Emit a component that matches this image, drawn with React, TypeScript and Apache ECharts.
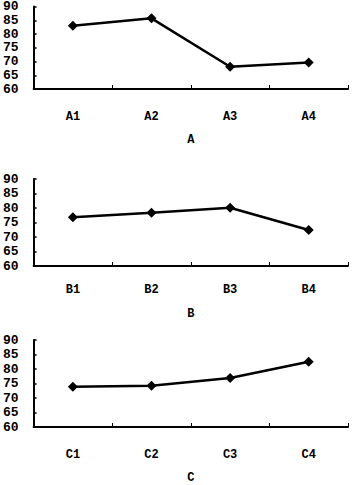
import React, { useEffect, useRef } from "react";
import * as echarts from "echarts";

const catsA = ["A1", "A2", "A3", "A4"];
const catsB = ["B1", "B2", "B3", "B4"];
const catsC = ["C1", "C2", "C3", "C4"];
const valsA = [83.0, 85.7, 68.1, 69.6];
const valsB = [76.8, 78.4, 80.1, 72.4];
const valsC = [73.9, 74.2, 76.9, 82.5];
const titles = ["A", "B", "C"];
const yMin = 60;
const yMax = 90;
const yStep = 5;

const FONT = "Liberation Mono";

export default function App() {
  const ref = useRef<HTMLDivElement>(null);
  useEffect(() => {
    if (!ref.current) return;
    const chart = echarts.init(ref.current, null, { renderer: "svg" });
    const grids = [
      { left: 33, right: 7, top: 5, height: 84 },
      { left: 33, right: 7, top: 179, height: 87 },
      { left: 33, right: 7, top: 340, height: 87 },
    ];
    const cats = [catsA, catsB, catsC];
    const vals = [valsA, valsB, valsC];
    const labelMargins = [22, 18, 22];
    const nameGaps = [45, 42, 45];
    const axisLine = { lineStyle: { color: "#000", width: 2 } };
    chart.setOption({
      animation: false,
      backgroundColor: "#fff",
      grid: grids,
      xAxis: cats.map((c, i) => ({
        type: "category",
        gridIndex: i,
        data: c,
        boundaryGap: true,
        name: titles[i],
        nameLocation: "middle",
        nameGap: nameGaps[i],
        nameTextStyle: { color: "#000", fontFamily: FONT, fontSize: 12, fontWeight: "bold" },
        axisLine,
        axisTick: { show: true, inside: true, length: 4, alignWithLabel: false, lineStyle: { color: "#000", width: 1 } },
        axisLabel: { color: "#000", fontFamily: FONT, fontSize: 12, fontWeight: "bold", margin: labelMargins[i] },
        splitLine: { show: false },
      })),
      yAxis: cats.map((_, i) => ({
        type: "value",
        gridIndex: i,
        min: yMin,
        max: yMax,
        interval: yStep,
        axisLine: { show: true, ...axisLine },
        axisTick: { show: true, inside: true, length: 3, lineStyle: { color: "#000", width: 1.5 } },
        axisLabel: { color: "#000", fontFamily: FONT, fontSize: 13, fontWeight: "bold", margin: 15 },
        splitLine: { show: false },
      })),
      series: vals.map((v, i) => ({
        type: "line",
        xAxisIndex: i,
        yAxisIndex: i,
        data: v,
        symbol: "diamond",
        symbolSize: 10,
        showSymbol: true,
        lineStyle: { color: "#000", width: 2.5 },
        itemStyle: { color: "#000" },
      })),
    });
    return () => chart.dispose();
  }, []);
  return (
    <div
      ref={ref}
      style={{ position: "fixed", left: 0, top: 0, width: 355, height: 485, background: "#fff" }}
    />
  );
}
